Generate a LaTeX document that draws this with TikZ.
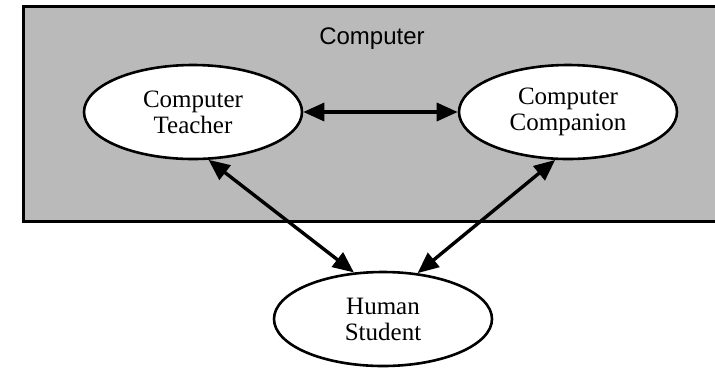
\documentclass[tikz,border=0pt]{standalone}
\usepackage{fontspec}
\setmainfont{Liberation Serif}
\newfontfamily\labelfont{Liberation Sans}
\usepackage{tikz}
\usetikzlibrary{shapes.geometric,arrows.meta}
\tikzset{
    agent-ellipse/.style = {draw=black, fill=white, line width=2.6pt, ellipse, minimum width=218pt, minimum height=94pt, inner sep=0pt, align=center, font=\fontsize{25}{26}\selectfont},
    box-title/.style = {font=\labelfont\fontsize{24}{26}\selectfont},
    link/.style = {line width=3.4pt, {Triangle[length=21pt,width=18pt]}-{Triangle[length=21pt,width=18pt]}},
}

\begin{document}
\begin{tikzpicture}[x=1pt,y=-1pt]
\useasboundingbox (0,0) rectangle (715,368);
\fill[black!27] (23,6) rectangle (715,221);
\draw[line width=3pt] (715,6) -- (23,6) -- (23,221) -- (715,221);
\node[box-title] (computer) at (372,39) {Computer};
\node[agent-ellipse] (teacher) at (193,112) {Computer\\Teacher};
\node[agent-ellipse] (companion) at (568,112) {Computer\\Companion};
\node[agent-ellipse] (student) at (383,319) {Human\\Student};
\draw[link] (teacher.east) -- (companion.west);
\draw[link] (teacher.-72) -- (student.122);
\draw[link] (companion.-105) -- (student.53);
\end{tikzpicture}
\end{document}
